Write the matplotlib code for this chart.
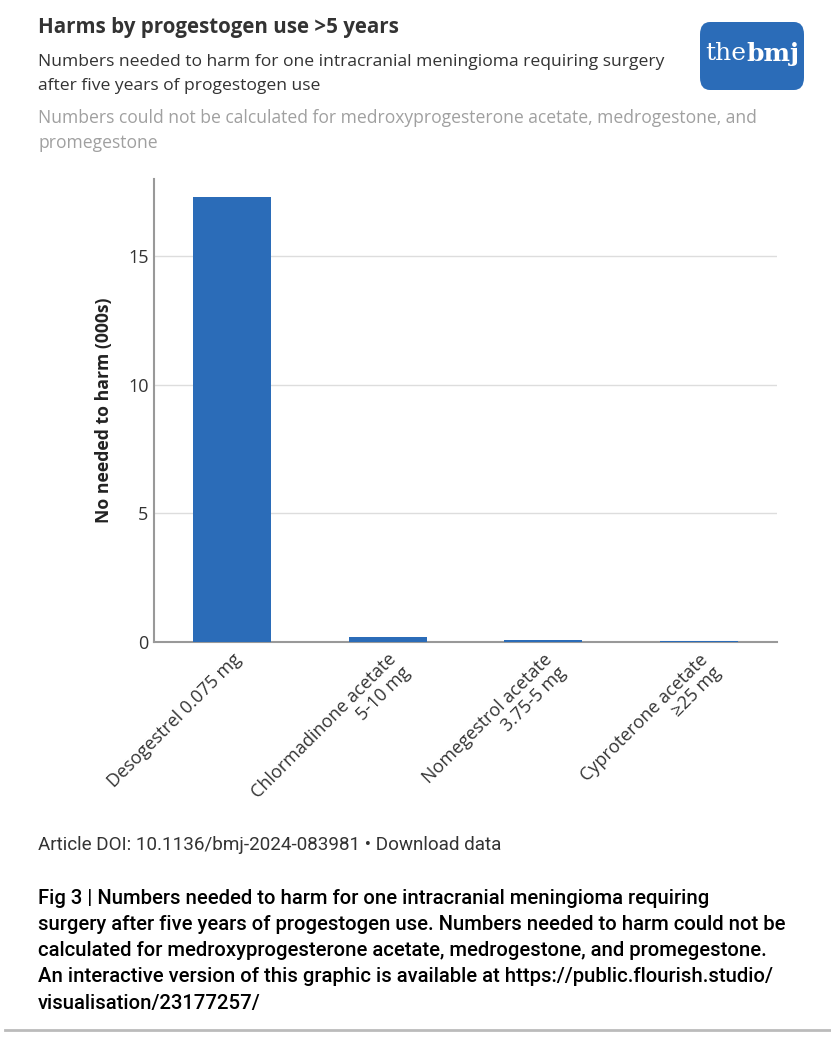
import matplotlib.pyplot as plt
from matplotlib.patches import FancyBboxPatch

# DATA
drugs = ["Desogestrel 0.075 mg", "Chlormadinone acetate\n5-10 mg",
         "Nomegestrol acetate\n3.75-5 mg", "Cyproterone acetate\n\u226525 mg"]
nnh_thousands = [17.3, 0.18, 0.07, 0.04]
y_ticks = [0, 5, 10, 15]

caption = ["Fig 3 | Numbers needed to harm for one intracranial meningioma requiring",
           "surgery after five years of progestogen use. Numbers needed to harm could not be",
           "calculated for medroxyprogesterone acetate, medrogestone, and promegestone.",
           "An interactive version of this graphic is available at https://public.flourish.studio/",
           "visualisation/23177257/"]

BLUE = "#2b6cb8"
W, H = 831, 1039

fig = plt.figure(figsize=(W / 100, H / 100), dpi=100)

def fx(px):
    return px / W

def fy(py):
    return 1 - py / H

# HEADER
fig.text(fx(38), fy(28), "Harms by progestogen use >5 years", fontsize=14.8,
         fontweight="bold", color="#333333", family="Open Sans", va="center")
fig.text(fx(38), fy(62), "Numbers needed to harm for one intracranial meningioma requiring surgery",
         fontsize=12.6, color="#333333", family="Open Sans", va="center")
fig.text(fx(38), fy(86), "after five years of progestogen use",
         fontsize=12.6, color="#333333", family="Open Sans", va="center")
fig.text(fx(38), fy(118), "Numbers could not be calculated for medroxyprogesterone acetate, medrogestone, and",
         fontsize=12.65, color="#a0a0a0", family="Open Sans", va="center")
fig.text(fx(38), fy(143), "promegestone",
         fontsize=12.65, color="#a0a0a0", family="Open Sans", va="center")

# logo
logo = FancyBboxPatch((fx(700), fy(90)), fx(104), 68 / H,
                      boxstyle="round,pad=0,rounding_size=0.012",
                      transform=fig.transFigure, facecolor=BLUE, edgecolor="none")
fig.patches.append(logo)
fig.text(fx(746), fy(54), "the", fontsize=18, color="white", family="DejaVu Serif",
         fontweight="light", ha="right", va="center")
fig.text(fx(746), fy(54), "bmj", fontsize=18, color="white", family="DejaVu Serif",
         fontweight="bold", ha="left", va="center")

# CHART
ax = fig.add_axes([fx(154), fy(642), fx(777 - 154), (642 - 179) / H])
x = range(len(drugs))
ax.bar(x, nnh_thousands, width=0.5, color=BLUE, zorder=3)
ax.set_xlim(-0.5, len(drugs) - 0.5)
ax.set_ylim(0, 18)
ax.set_yticks(y_ticks)
ax.set_yticklabels([str(t) for t in y_ticks], fontsize=13, color="#333333", family="Open Sans")
ax.yaxis.grid(True, color="#dddddd", linewidth=1, zorder=0)
ax.set_axisbelow(True)
ax.tick_params(axis="y", length=0, pad=4)
ax.tick_params(axis="x", length=0, pad=6)
ax.set_xticks(list(x))
ax.set_xticklabels(drugs, rotation=45, ha="right", rotation_mode="anchor",
                   fontsize=13, color="#333333", family="Open Sans", linespacing=1.05)
for lab in ax.get_xticklabels():
    lab.set_multialignment("right")
for s in ["top", "right"]:
    ax.spines[s].set_visible(False)
ax.spines["left"].set_color("#999999")
ax.spines["bottom"].set_color("#999999")
ax.spines["left"].set_linewidth(1.5)
ax.spines["bottom"].set_linewidth(1.5)
ax.set_ylabel("No needed to harm (000s)", fontsize=12.7, fontweight="bold",
              color="#222222", family="Open Sans", labelpad=11)

# FOOTER
fig.text(fx(38), fy(845), "Article DOI: 10.1136/bmj-2024-083981 \u2022 Download data",
         fontsize=13.6, color="#333333", family="Roboto", va="center")

# caption: fit the widest line to the reference width (condensed font not available)
cap_texts = []
for i, line in enumerate(caption):
    t = fig.text(fx(38), fy(898 + i * 26.3), line, fontsize=14, color="black",
                 family="Roboto", fontweight="medium", va="center")
    cap_texts.append(t)
renderer = fig.canvas.get_renderer()
widest = max(t.get_window_extent(renderer).width for t in cap_texts)
scale = 750 / widest
for t in cap_texts:
    t.set_fontsize(14 * scale)

fig.add_artist(plt.Line2D([fx(5), 1], [fy(1030), fy(1030)], transform=fig.transFigure,
                          color="#bbbbbb", linewidth=2))

fig.savefig("out.png", dpi=100)
